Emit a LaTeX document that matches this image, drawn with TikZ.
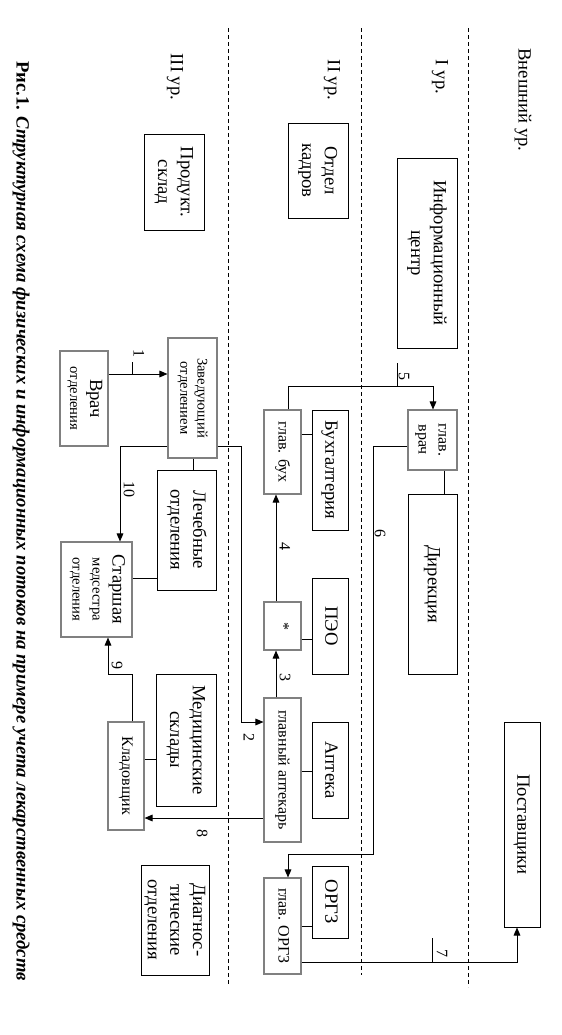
\documentclass[tikz,border=0pt]{standalone}
\usepackage{fontspec}
\setmainfont{Liberation Serif}
\usepackage{graphicx}
\usetikzlibrary{arrows.meta,calc}
\newlength\pxu \setlength\pxu{0.75pt}
\newcommand\vtxt[1]{\rotatebox{-90}{\begin{tabular}{@{}c@{}}#1\end{tabular}}}
\newcommand\fbig{\fontsize{14}{17}\selectfont}
\newcommand\fmid{\fontsize{12}{15}\selectfont}
\newcommand\fsml{\fontsize{11}{13}\selectfont}
\begin{document}
\begin{tikzpicture}[x=0.75pt,y=-0.75pt,
  sz/.style 2 args={minimum width=#1\pxu,minimum height=#2\pxu},
  bx/.style={draw=black,line width=0.75pt,inner sep=0pt,font=\fbig},
  gbx/.style={draw=gray,line width=0.8pt,inner sep=0pt,font=\fmid},
  dl/.style={line width=0.7pt,dash pattern=on 3pt off 2.25pt},
  ln/.style={line width=0.7pt},
  ar/.style={line width=0.7pt,-{Triangle[length=6pt,width=5pt]}},
  lbl/.style={inner sep=0pt,font=\fmid,rotate=-90},
  ttl/.style={inner sep=0pt,font=\fbig,rotate=-90}]
\useasboundingbox (0,0) rectangle (561,1035);
% level separators
\draw[dl] (228,28) -- (228,985);
\draw[dl] (361,28) -- (361,975);
\draw[dl] (468,28) -- (468,987);
% level titles
\node[ttl] (tv) at (523,100) {Внешний ур.};
\node[ttl] (t1) at (440,77) {I ур.};
\node[ttl] (t2) at (332,80) {II ур.};
\node[ttl] (t3) at (175,77) {III ур.};
% caption
\node[inner sep=0pt,rotate=-90,font=\fontsize{14}{17}\selectfont\bfseries] (cap) at (21,521)
  {Рис.1. \textit{Структурная схема физических и информационных потоков на примере учета лекарственных средств}};
% boxes
\node[bx,sz={60}{190}] (info) at (427,253) {\vtxt{Информационный\\центр}};
\node[bx,sz={60}{95}] (kadr) at (318,170.5) {\vtxt{Отдел\\кадров}};
\node[bx,sz={60}{96}] (sklad) at (174,182) {\vtxt{Продукт.\\склад}};
\node[gbx,sz={49}{60}] (glvrach) at (432.5,440) {\vtxt{глав.\\врач}};
\node[bx,sz={49}{180}] (direk) at (432.5,584) {\vtxt{Дирекция}};
\node[bx,sz={36}{120}] (buh) at (330,470) {\vtxt{Бухгалтерия}};
\node[gbx,sz={37}{84}] (glbuh) at (282.5,452) {\vtxt{глав. бух}};
\node[bx,sz={36}{96}] (peo) at (330,626) {\vtxt{ПЭО}};
\node[gbx,sz={37}{48}] (star) at (282.5,626) {\vtxt{*}};
\node[gbx,sz={37}{144}] (glapt) at (282.5,770) {\vtxt{главный аптекарь}};
\node[bx,sz={36}{96}] (apteka) at (330,770) {\vtxt{Аптека}};
\node[bx,sz={36}{72}] (orgz) at (330,902) {\vtxt{ОРГЗ}};
\node[gbx,sz={37}{96}] (glorgz) at (282.5,926) {\vtxt{глав. ОРГЗ}};
\node[bx,sz={36}{205}] (postav) at (522,824.5) {\vtxt{Поставщики}};
\node[bx,sz={60}{110}] (diag) at (175,920) {\vtxt{Диагнос-\\тические\\отделения}};
\node[gbx,sz={49}{120},font=\fsml] (zav) at (192.5,398) {\vtxt{Заведующий\\отделением}};
\node[gbx,sz={48}{95}] (vrach) at (84,398.5) {\vtxt{{\fbig Врач}\\{\fsml отделения}}};
\node[bx,sz={59}{120}] (lech) at (186.5,530) {\vtxt{Лечебные\\отделения}};
\node[gbx,sz={71}{95}] (stmed) at (96.5,589.5) {\vtxt{{\fbig Старшая}\\{\fsml медсестра}\\{\fsml отделения}}};
\node[bx,sz={60}{132}] (medskl) at (186,740) {\vtxt{Медицинские\\склады}};
\node[gbx,sz={36}{108}] (klad) at (126,776) {\vtxt{Кладовщик}};
% plain links
\draw[ln] (glvrach.south -| 444,0) -- (direk.north -| 444,0);
\draw[ln] (glbuh.east |- 0,434) -- (buh.west |- 0,434);
\draw[ln] (star.east |- 0,639) -- (peo.west |- 0,639);
\draw[ln] (glapt.east |- 0,771) -- (apteka.west |- 0,771);
\draw[ln] (glorgz.east |- 0,926) -- (orgz.west |- 0,926);
\draw[ln] (zav.south -| 193,0) -- (lech.north -| 193,0);
\draw[ln] (stmed.east |- 0,578) -- (lech.west |- 0,578);
\draw[ln] (klad.east |- 0,759) -- (medskl.west |- 0,759);
% flows
\draw[ar] (vrach.east |- 0,374) -- (zav.west |- 0,374);
\coordinate (k1) at (132,362); \draw[ln] (k1) -- (132,374);
\node[lbl] (l1) at (139,353) {1};
\draw[ar] (zav.east |- 0,446) -- (241,446) -- (241,722) -- (glapt.west |- 0,722);
\node[lbl] (l2) at (249,737) {2};
\draw[ar] (glapt.north -| 276,0) -- (star.south -| 276,0);
\node[lbl] (l3) at (285,677) {3};
\draw[ar] (star.north -| 276,0) -- (glbuh.south -| 276,0);
\node[lbl] (l4) at (285,546) {4};
\coordinate (k5) at (397,363); \draw[ln] (k5) -- (397,386);
\draw[ar] (glbuh.north -| 288,0) -- (288,386) -- (433,386) -- (glvrach.north -| 433,0);
\node[lbl] (l5) at (404,376) {5};
\draw[ar] (glvrach.west |- 0,446) -- (373,446) -- (373,854) -- (288,854) -- (glorgz.north -| 288,0);
\node[lbl] (l6) at (380,533) {6};
\draw[ar] (glorgz.east |- 0,962) -- (517,962) -- (postav.south -| 517,0);
\coordinate (k7) at (432,938); \draw[ln] (k7) -- (432,962);
\node[lbl] (l7) at (442,953) {7};
\draw[ar] (glapt.west |- 0,818) -- (klad.east |- 0,818);
\node[lbl] (l8) at (202,833) {8};
\draw[ar] (klad.north -| 132,0) -- (132,674) -- (108,674) -- (stmed.south -| 108,0);
\node[lbl] (l9) at (117,665) {9};
\draw[ar] (zav.west |- 0,446) -- (120,446) -- (stmed.north -| 120,0);
\node[lbl] (l10) at (129,489) {10};
\end{tikzpicture}
\end{document}
